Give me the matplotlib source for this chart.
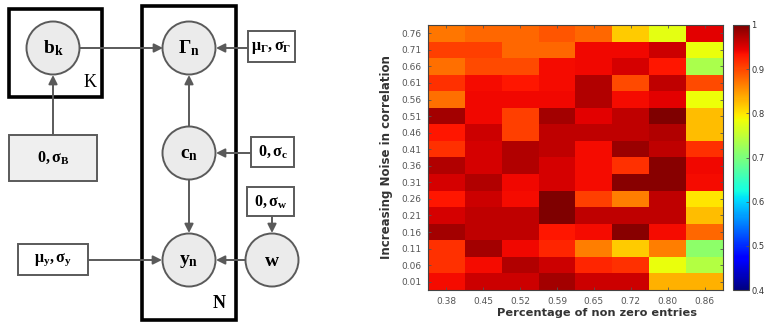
import numpy as np
import matplotlib
matplotlib.use("Agg")
import matplotlib.pyplot as plt
import matplotlib.patches as patches

plt.rcParams['mathtext.fontset'] = 'custom'
plt.rcParams['mathtext.rm'] = 'Liberation Serif'
plt.rcParams['mathtext.it'] = 'Liberation Serif:italic'
plt.rcParams['mathtext.bf'] = 'Liberation Serif:bold'

# heatmap data, rows from top (0.76) to bottom (0.01)
sparsity = ['0.38', '0.45', '0.52', '0.59', '0.65', '0.72', '0.80', '0.86']
noise = ['0.76', '0.71', '0.66', '0.61', '0.56', '0.51', '0.46', '0.41',
         '0.36', '0.31', '0.26', '0.21', '0.16', '0.11', '0.06', '0.01']
score = np.array([
    [0.870, 0.880, 0.880, 0.890, 0.880, 0.816, 0.775, 0.947],
    [0.904, 0.904, 0.880, 0.880, 0.940, 0.940, 0.960, 0.780],
    [0.874, 0.898, 0.898, 0.938, 0.940, 0.954, 0.930, 0.735],
    [0.914, 0.938, 0.930, 0.938, 0.974, 0.898, 0.967, 0.898],
    [0.874, 0.940, 0.940, 0.940, 0.974, 0.938, 0.947, 0.784],
    [0.980, 0.940, 0.904, 0.980, 0.947, 0.967, 1.000, 0.826],
    [0.930, 0.960, 0.904, 0.967, 0.967, 0.967, 0.974, 0.826],
    [0.914, 0.954, 0.974, 0.967, 0.938, 0.985, 0.967, 0.914],
    [0.974, 0.954, 0.974, 0.954, 0.938, 0.914, 0.993, 0.940],
    [0.954, 0.974, 0.940, 0.954, 0.938, 0.993, 0.993, 0.938],
    [0.930, 0.960, 0.938, 1.000, 0.904, 0.865, 0.967, 0.800],
    [0.954, 0.967, 0.967, 1.000, 0.967, 0.967, 0.967, 0.826],
    [0.980, 0.967, 0.967, 0.930, 0.938, 0.993, 0.938, 0.880],
    [0.914, 0.980, 0.940, 0.922, 0.865, 0.816, 0.865, 0.712],
    [0.914, 0.938, 0.974, 0.960, 0.922, 0.914, 0.780, 0.740],
    [0.938, 0.960, 0.960, 0.980, 0.960, 0.960, 0.832, 0.832],
])
cbar_ticks = [0.4, 0.5, 0.6, 0.7, 0.8, 0.9, 1.0]

# graphical model: nodes and parameter boxes (pixel layout)
nodes = {
    'b': (53, 48, r'$\mathbf{b_k}$'),
    'G': (189, 48, r'$\mathbf{\Gamma_n}$'),
    'c': (189, 153, r'$\mathbf{c_n}$'),
    'y': (189, 260, r'$\mathbf{y_n}$'),
    'w': (272, 260, r'$\mathbf{w}$'),
}
boxes = [
    (248, 31, 47, 31, r'$\mathbf{\mu_\Gamma,\sigma_\Gamma}$', 'white'),
    (9, 135, 88, 46, r'$\mathbf{0,\sigma_B}$', '#efefef'),
    (251, 137, 43, 30, r'$\mathbf{0,\sigma_c}$', 'white'),
    (247, 187, 47, 29, r'$\mathbf{0,\sigma_w}$', 'white'),
    (18, 244, 70, 31, r'$\mathbf{\mu_y,\sigma_y}$', 'white'),
]
edges = [
    ((80, 48), (163, 48)),
    ((248, 48), (216, 48)),
    ((53, 135), (53, 75)),
    ((189, 126), (189, 75)),
    ((251, 153), (216, 153)),
    ((189, 180), (189, 233)),
    ((88, 260), (162, 260)),
    ((245, 260), (216, 260)),
    ((272, 216), (272, 233)),
]

fig = plt.figure(figsize=(7.66, 3.22), dpi=100)

ax0 = fig.add_axes([0, 0, 330 / 766, 1])
ax0.set_xlim(0, 330)
ax0.set_ylim(322, 0)
ax0.axis('off')

ax0.add_patch(patches.Rectangle((9, 9), 93, 88, fill=False, ec='black', lw=2.6))
ax0.add_patch(patches.Rectangle((142, 6), 94, 314, fill=False, ec='black', lw=2.6))
ax0.text(90, 82, 'K', family='Liberation Serif', fontsize=13, ha='center', va='center')
ax0.text(219, 304, 'N', family='Liberation Serif', weight='bold', fontsize=13,
         ha='center', va='center')

for (s, e) in edges:
    ax0.annotate('', xy=e, xytext=s,
                 arrowprops=dict(arrowstyle='-|>', color='#5a5a5a', lw=1.4,
                                 mutation_scale=13, shrinkA=0, shrinkB=0))

for k, (x, y, lab) in nodes.items():
    ax0.add_patch(patches.Circle((x, y), 26.5, fc='#ebebeb', ec='#5a5a5a', lw=1.4, zorder=3))
    ax0.text(x, y, lab, fontsize=14, ha='center', va='center', zorder=4)

for (x, y, w, h, lab, fc) in boxes:
    ax0.add_patch(patches.Rectangle((x, y), w, h, fc=fc, ec='#5a5a5a', lw=1.4, zorder=3))
    ax0.text(x + w / 2, y + h / 2, lab, fontsize=11.5, ha='center', va='center', zorder=4)

# heatmap
ax1 = fig.add_axes([428 / 766, 32 / 322, 295 / 766, 265 / 322])
im = ax1.imshow(score, cmap='jet', vmin=0.4, vmax=1.0, aspect='auto',
                interpolation='nearest')
ax1.set_xticks(range(len(sparsity)))
ax1.set_xticklabels(sparsity)
ax1.set_yticks(range(len(noise)))
ax1.set_yticklabels(noise)
ax1.tick_params(direction='in', length=2.5, width=0.6, color='#555555',
                labelsize=6.5, labelcolor='#555555', top=True, right=True, pad=5)
for sp in ax1.spines.values():
    sp.set_color('#444444')
    sp.set_linewidth(0.8)
ax1.set_xlabel('Percentage of non zero entries', fontsize=8.2, weight='bold',
               color='#333333')
ax1.xaxis.set_label_coords(0.573, -0.068)
ax1.set_ylabel('Increasing Noise in correlation', fontsize=8.5, weight='bold',
               color='#333333', labelpad=6)

cax = fig.add_axes([733 / 766, 32 / 322, 16 / 766, 265 / 322])
cb = fig.colorbar(im, cax=cax, ticks=cbar_ticks)
cb.ax.set_yticklabels(['%g' % t for t in cbar_ticks])
cb.ax.tick_params(direction='in', length=2.5, width=0.6, color='#555555',
                  labelsize=6, labelcolor='#333333', pad=1.5)
cb.outline.set_edgecolor('#444444')
cb.outline.set_linewidth(0.8)

fig.savefig('out.png', dpi=100)
